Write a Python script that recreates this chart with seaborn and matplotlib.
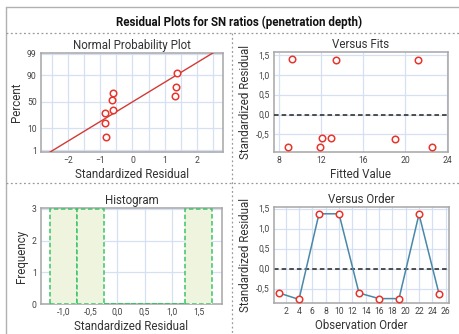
import matplotlib
matplotlib.use("Agg")
import matplotlib.pyplot as plt
from matplotlib.lines import Line2D
from matplotlib.ticker import FuncFormatter
import seaborn as sns
import pandas as pd
import numpy as np
from statistics import NormalDist

# Normal probability plot: standardized residuals vs. cumulative percent
npp_resid = [-0.82, -0.85, -0.85, -0.615, -0.625, -0.605, 1.33, 1.35, 1.37]
npp_percent = [4.6, 15, 29, 35, 53, 67, 62, 76, 92]
npp_fit_slope = 0.95
npp_fit_intercept = 0.0
percent_ticks = [1, 10, 50, 90, 99]

# Versus fits
fitted = [8.8, 9.17, 11.88, 12.12, 12.95, 13.46, 19.0, 21.2, 22.57]
fit_resid = [-0.81, 1.39, -0.81, -0.60, -0.60, 1.38, -0.61, 1.38, -0.81]

# Histogram bins of the residuals
hist_bins = [-1.25, -0.75, -0.25, 0.25, 0.75, 1.25, 1.75]

# Versus observation order
order = [1, 4, 7, 10, 13, 16, 19, 22, 25]
order_resid = [-0.61, -0.77, 1.37, 1.37, -0.61, -0.75, -0.75, 1.36, -0.63]

sns.set_theme(style="white")
plt.rcParams["font.family"] = ["Roboto", "DejaVu Sans"]

W, H = 459, 334
fig = plt.figure(figsize=(W / 100, H / 100), dpi=100)

GRID = "#d6e0f4"
SPINE = "#a6a6a6"
TXT = "#333333"
RED = "#e8352b"


def box(l, t, r, b):
    return [l / W, 1 - b / H, (r - l) / W, (b - t) / H]


def comma(v, _):
    s = f"{v:.1f}".replace(".", ",")
    return s


def style(ax, title, xlabel, ylabel):
    ax.set_title(title, fontsize=8.3, color=TXT, pad=3)
    ax.set_xlabel(xlabel, fontsize=8.3, color=TXT, labelpad=2)
    ax.set_ylabel(ylabel, fontsize=8.3, color=TXT, labelpad=3)
    ax.tick_params(labelsize=6.2, colors="#444444", length=0, pad=3)
    ax.grid(True, color=GRID, linewidth=0.9)
    ax.set_axisbelow(True)
    for s in ax.spines.values():
        s.set_color(SPINE)
        s.set_linewidth(1.1)


marker_kw = dict(marker="o", s=22, facecolor="white", edgecolor=RED, linewidth=1.1, zorder=4)

# --- Normal probability plot ---
ax1 = fig.add_axes(box(41, 53, 223, 152))
nd = NormalDist()
npp_df = pd.DataFrame({"resid": npp_resid, "z": [nd.inv_cdf(p / 100) for p in npp_percent]})
xs = np.array([-3.0, 3.0])
ax1.plot(xs, npp_fit_intercept + npp_fit_slope * xs, color="#d43a34", linewidth=1.0, zorder=3)
sns.scatterplot(data=npp_df, x="resid", y="z", ax=ax1, **marker_kw)
ax1.set_xlim(-2.83, 2.8)
ax1.set_ylim(-2.42, 2.36)
ax1.set_xticks([-2, -1, 0, 1, 2])
ax1.set_xticks(np.arange(-2.5, 2.6, 1.0), minor=True)
ax1.set_yticks([nd.inv_cdf(p / 100) for p in percent_ticks])
ax1.set_yticklabels([str(p) for p in percent_ticks])
style(ax1, "Normal Probability Plot", "Standardized Residual", "Percent")
ax1.grid(True, which="minor", axis="x", color=GRID, linewidth=0.9)

# --- Versus fits ---
ax2 = fig.add_axes(box(274, 52, 448, 152))
fits_df = pd.DataFrame({"fit": fitted, "resid": fit_resid})
ax2.axhline(0, color="#222222", linestyle=(0, (3, 2)), linewidth=1.1, zorder=3)
sns.scatterplot(data=fits_df, x="fit", y="resid", ax=ax2, **marker_kw)
ax2.set_xlim(7.5, 24.1)
ax2.set_ylim(-0.94, 1.57)
ax2.set_xticks([8, 12, 16, 20, 24])
ax2.set_yticks([-0.5, 0.0, 0.5, 1.0, 1.5])
ax2.yaxis.set_major_formatter(FuncFormatter(comma))
style(ax2, "Versus Fits", "Fitted Value", "Standardized Residual")

# --- Histogram ---
ax3 = fig.add_axes(box(41, 208, 222, 304))
sns.histplot(x=fit_resid, bins=hist_bins, ax=ax3, color="#eef4dd", alpha=1.0,
             edgecolor="#3cc46a", linewidth=1.1, linestyle=(0, (3, 1.6)), zorder=3)
ax3.set_xlim(-1.41, 1.93)
ax3.set_ylim(0, 3.03)
ax3.set_xticks([-1.0, -0.5, 0.0, 0.5, 1.0, 1.5])
ax3.xaxis.set_major_formatter(FuncFormatter(comma))
ax3.set_yticks([0, 1, 2, 3])
style(ax3, "Histogram", "Standardized Residual", "Frequency")

# --- Versus order ---
ax4 = fig.add_axes(box(274, 207, 449, 303))
order_df = pd.DataFrame({"obs": order, "resid": order_resid})
ax4.axhline(0, color="#222222", linestyle=(0, (3, 2)), linewidth=1.1, zorder=2)
sns.lineplot(data=order_df, x="obs", y="resid", ax=ax4, color="#4a88a8", linewidth=1.1, zorder=3)
sns.scatterplot(data=order_df, x="obs", y="resid", ax=ax4, **marker_kw)
ax4.set_xlim(0.25, 26.5)
ax4.set_ylim(-0.86, 1.54)
ax4.set_xticks(list(range(2, 27, 2)))
ax4.set_yticks([-0.5, 0.0, 0.5, 1.0, 1.5])
ax4.yaxis.set_major_formatter(FuncFormatter(comma))
style(ax4, "Versus Order", "Observation Order", "Standardized Residual")

# --- Frame and separators ---
def fline(x0, y0, x1, y1, **kw):
    fig.add_artist(Line2D([x0 / W, x1 / W], [1 - y0 / H, 1 - y1 / H], transform=fig.transFigure, **kw))

fline(6, 7, W, 7, color="#b0b0b0", linewidth=1.0)
fline(6, 7, 6, H, color="#b0b0b0", linewidth=1.0)
dot = dict(color="#9a9a9a", linewidth=0.9, linestyle=(0, (1.5, 2)))
fline(6, 33, W, 33, **dot)
fline(232, 33, 232, H, **dot)
fline(6, 183, W, 183, **dot)

fig.text(239 / W, 1 - 22 / H, "Residual Plots for SN ratios (penetration depth)",
         ha="center", va="center", fontsize=8.3, fontweight="bold", color="#111111")

fig.savefig("out.png", dpi=100, facecolor="white")
